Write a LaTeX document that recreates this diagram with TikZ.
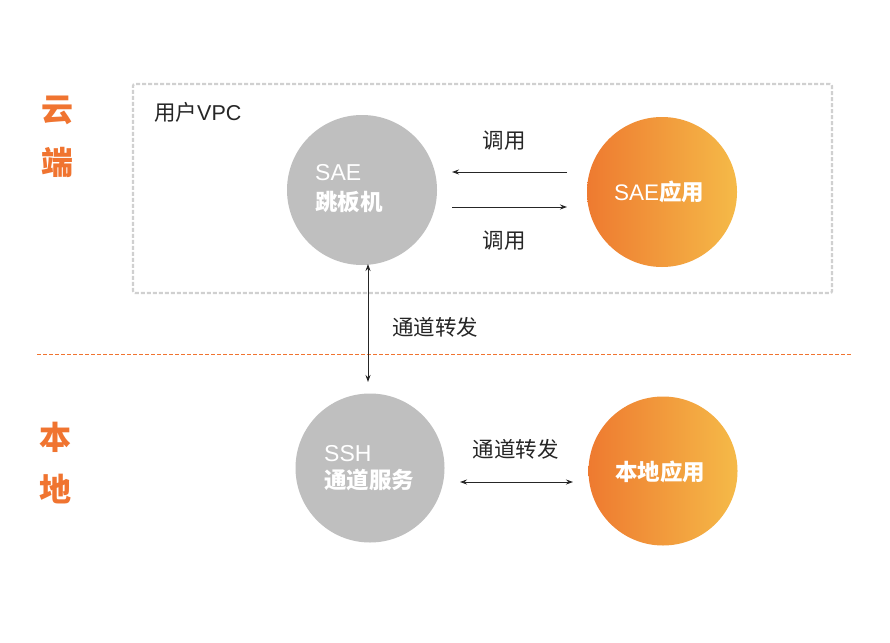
\documentclass[tikz,border=0pt]{standalone}
\usepackage{fontspec}
\setmainfont{Noto Sans CJK SC}
\newfontfamily\lat{Liberation Sans}
\usetikzlibrary{arrows.meta,shadings}
\definecolor{orangeD}{HTML}{EE7A30}
\definecolor{orangeL}{HTML}{F5BA48}
\definecolor{sideorange}{HTML}{F07430}
\definecolor{circgray}{HTML}{BFBFBF}
\definecolor{boxgray}{HTML}{D0D0D0}
\tikzset{
  graycirc/.style={circle,fill=circgray,inner sep=0pt,minimum size=#1},
  orgcirc/.style={circle,inner sep=0pt,minimum size=#1,left color=orangeD,right color=orangeL,shading=axis,shading angle=90},
  sidelab/.style={text=sideorange,font=\fontsize{32}{32}\selectfont\bfseries,inner sep=0pt},
  lab/.style={text=black!85,font=\fontsize{21.5}{21.5}\selectfont,inner sep=0pt},
  intxt/.style={text=white,font=\fontsize{23}{23}\selectfont,inner sep=0pt,anchor=west},
  intxtb/.style={text=white,font=\fontsize{22.5}{22.5}\selectfont\bfseries,inner sep=0pt,anchor=west},
  arr/.style={-{Stealth[length=7pt,width=5pt]},line width=0.9pt,black!85},
  darr/.style={{Stealth[length=7pt,width=5pt]}-{Stealth[length=7pt,width=5pt]},line width=0.9pt,black!85}
}
\begin{document}
\begin{tikzpicture}[x=1pt,y=-1pt]
\useasboundingbox[fill=white] (0,0) rectangle (890,642);
% dashed VPC box
\node[draw=boxgray,line width=2.2pt,dash pattern=on 4pt off 2pt,rounded corners=2pt,minimum width=699pt,minimum height=209pt,inner sep=0pt] (vpc) at (482.5,188.5) {};
% orange separator
\coordinate (sepL) at (37,354);
\coordinate (sepR) at (852,354);
\draw[sideorange,line width=0.9pt,dash pattern=on 4pt off 2pt] (sepL) -- (sepR);
% side labels
\node[sidelab] (yun) at (57,110) {云};
\node[sidelab] (duan) at (57,162) {端};
\node[sidelab] (ben) at (55,437) {本};
\node[sidelab] (di) at (55,489) {地};
% box title
\node[lab,anchor=west] (vpct) at (154,112) {用户{\lat VPC}};
% circles
\node[graycirc=150pt] (jump) at (362,190) {};
\node[orgcirc=150pt] (saeapp) at (662,192) {};
\node[graycirc=149pt] (ssh) at (370,468) {};
\node[orgcirc=149pt] (local) at (663,471) {};
% circle texts
\node[intxt] (t1) at (315,172.5) {\lat SAE};
\node[intxtb] (t2) at (315,202.5) {跳板机};
\node[intxt] (t3) at (324,453.5) {\lat SSH};
\node[intxtb] (t4) at (324,480) {通道服务};
\node[text=white,font=\fontsize{22.5}{22.5}\selectfont,inner sep=0pt] (t5) at (659,192) {{\lat SAE}\textbf{应用}};
\node[text=white,font=\fontsize{22.5}{22.5}\selectfont\bfseries,inner sep=0pt] (t6) at (660,472) {本地应用};
% labels
\node[lab] (c1) at (504,141) {调用};
\node[lab] (c2) at (504,241) {调用};
\node[lab,anchor=west] (f1) at (392,327) {通道转发};
\node[lab] (f2) at (515.5,449) {通道转发};
% arrow endpoints
\coordinate (a1s) at (567,172);
\coordinate (a1e) at (452,172);
\coordinate (a2s) at (452,207);
\coordinate (a2e) at (567,207);
\coordinate (vt) at (368,264);
\coordinate (vb) at (368,382);
\coordinate (hl) at (460,482);
\coordinate (hr) at (573,482);
\draw[arr] (a1s) -- (a1e);
\draw[arr] (a2s) -- (a2e);
\draw[darr] (vt) -- (vb);
\draw[darr] (hl) -- (hr);
\end{tikzpicture}
\end{document}
